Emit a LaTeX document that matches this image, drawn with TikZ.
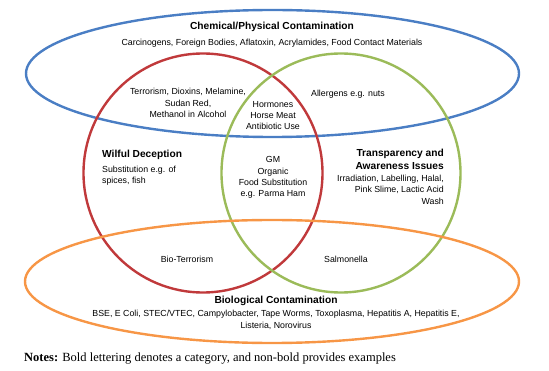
\documentclass[tikz,border=0pt]{standalone}
\usepackage{fontspec}
\setmainfont{Liberation Sans}
\newfontfamily\notesfont{Liberation Serif}
\definecolor{cblue}{HTML}{4A7EC4}
\definecolor{cred}{HTML}{C0393B}
\definecolor{cgreen}{HTML}{9BBB59}
\definecolor{corange}{HTML}{F79646}
\begin{document}
\begin{tikzpicture}[x=1pt,y=-1pt,
  ring/.style={line width=2.4pt},
  cat/.style={font=\fontsize{10.2}{12}\selectfont\bfseries, inner sep=0pt},
  ex/.style={font=\fontsize{8.8}{11.3}\selectfont, inner sep=0pt, align=center}]
\useasboundingbox (0,0) rectangle (549,371);
\draw[ring, cblue] (272.5,73.5) ellipse [x radius=246.5, y radius=63.5];
\draw[ring, cred] (203,173) circle [radius=119.5];
\draw[ring, cgreen] (341,173) circle [radius=119.5];
\draw[ring, corange] (272,281.5) ellipse [x radius=247, y radius=61.5];

\node[cat] (chem) at (272,27) {Chemical/Physical Contamination};
\node[ex] (chemex) at (272,43) {Carcinogens, Foreign Bodies, Aflatoxin, Acrylamides, Food Contact Materials};
\node[ex] (rb) at (188,103) {Terrorism, Dioxins, Melamine,\\Sudan Red,\\Methanol in Alcohol};
\node[ex] (rgb) at (273,115.5) {Hormones\\Horse Meat\\Antibiotic Use};
\node[ex] (gb) at (348,94) {Allergens e.g. nuts};
\node[cat, anchor=west] (wil) at (102,155) {Wilful Deception};
\node[ex, anchor=north west, align=left] (wilex) at (102,166) {Substitution e.g. of\\spices, fish};
\node[ex] (rg) at (273,177.5) {GM\\Organic\\Food Substitution\\e.g. Parma Ham};
\node[cat, anchor=east, align=right, font=\fontsize{10.2}{13}\selectfont\bfseries] (tra) at (444,159.5) {Transparency and\\Awareness Issues};
\node[ex, anchor=north east, align=right] (traex) at (444,175) {Irradiation, Labelling, Halal,\\Pink Slime, Lactic Acid\\Wash};
\node[ex] (ro) at (187,259) {Bio-Terrorism};
\node[ex] (go) at (346,259) {Salmonella};
\node[cat] (bio) at (276,301) {Biological Contamination};
\node[ex] (bioex) at (276,320) {BSE, E Coli, STEC/VTEC, Campylobacter, Tape Worms, Toxoplasma, Hepatitis A, Hepatitis E,\\Listeria, Norovirus};
\node[anchor=west, inner sep=0pt, font=\notesfont\fontsize{12.5}{14}\selectfont] (notes) at (24,359) {\textbf{Notes:} Bold lettering denotes a category, and non-bold provides examples};
\end{tikzpicture}
\end{document}
